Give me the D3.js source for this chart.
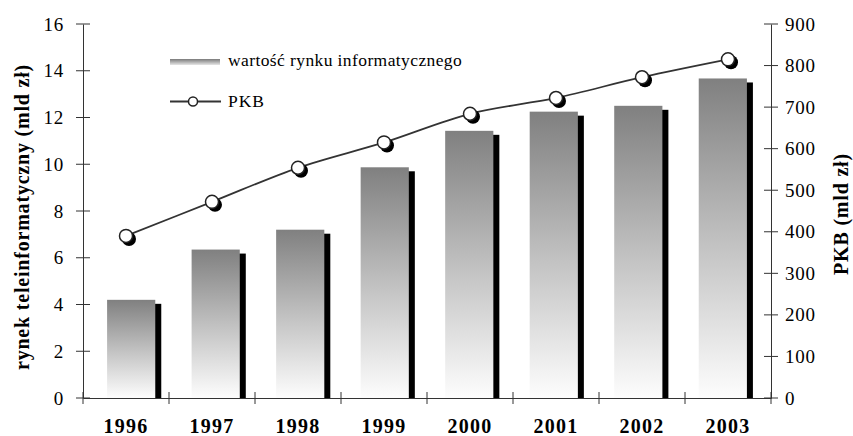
<!DOCTYPE html>
<html><head><meta charset="utf-8">
<script src="https://cdnjs.cloudflare.com/ajax/libs/d3/7.8.5/d3.min.js"></script>
<style>body{margin:0;background:#fff}svg{display:block}
svg text{font-family:"Liberation Serif","Times New Roman","DejaVu Serif",serif !important;}
</style>
</head><body><div id="chart"></div>
<script>
const years = ["1996","1997","1998","1999","2000","2001","2002","2003"];
const marketValues = [4.2, 6.35, 7.2, 9.87, 11.43, 12.25, 12.5, 13.67];
const gdpValues = [390, 472, 554, 615, 684, 722, 772, 815];
const leftTicks = [0,2,4,6,8,10,12,14,16];
const rightTicks = [0,100,200,300,400,500,600,700,800,900];

const W = 853, H = 436;
const m = {left: 83, right: 82, top: 24, bottom: 38};
const svg = d3.select("#chart").append("svg").attr("width", W).attr("height", H);

const x = d3.scaleBand().domain(years).range([m.left, W - m.right]).paddingInner(0.43).paddingOuter(0.285);
const xb = d3.scaleBand().domain(years).range([m.left, W - m.right]);
const yL = d3.scaleLinear().domain([0,16]).range([H - m.bottom, m.top]);
const yR = d3.scaleLinear().domain([0,900]).range([H - m.bottom, m.top]);

const defs = svg.append("defs");
const g = defs.append("linearGradient").attr("id","barGrad").attr("x1",0).attr("y1",0).attr("x2",0).attr("y2",1);
g.append("stop").attr("offset","0%").attr("stop-color","#808080");
g.append("stop").attr("offset","55%").attr("stop-color","#c6c6c6");
g.append("stop").attr("offset","100%").attr("stop-color","#fdfdfd");

// bar shadows
svg.append("g").selectAll("rect").data(years).join("rect")
  .attr("x", d => x(d) + 6).attr("y", (d,i) => yL(marketValues[i]) + 4)
  .attr("width", x.bandwidth()).attr("height", (d,i) => yL(0) - yL(marketValues[i]) - 4)
  .attr("fill", "#000");
// bars
svg.append("g").selectAll("rect").data(years).join("rect")
  .attr("x", d => x(d)).attr("y", (d,i) => yL(marketValues[i]))
  .attr("width", x.bandwidth()).attr("height", (d,i) => yL(0) - yL(marketValues[i]))
  .attr("fill", "url(#barGrad)");

// axes
const axL = svg.append("g").attr("transform",`translate(${m.left},0)`)
  .call(d3.axisLeft(yL).tickValues(leftTicks).tickSize(0).tickPadding(19));
const axR = svg.append("g").attr("transform",`translate(${W - m.right},0)`)
  .call(d3.axisRight(yR).tickValues(rightTicks).tickSize(0).tickPadding(14));
const axX = svg.append("g").attr("transform",`translate(0,${H - m.bottom})`)
  .call(d3.axisBottom(xb).tickSize(0).tickPadding(21));
[axL, axR, axX].forEach(a => {
  a.attr("font-family", null).attr("font-size", null);
  a.select(".domain").attr("stroke","#333").attr("stroke-width",1);
  a.selectAll("text").attr("font-size", 19).attr("letter-spacing", 0.8).attr("fill","#000");
});
axX.selectAll("text").attr("font-weight","bold").attr("font-size",20).attr("letter-spacing",1.2);
// crossing ticks
svg.append("g").selectAll("line").data(leftTicks).join("line")
  .attr("x1", m.left - 7).attr("x2", m.left + 7).attr("y1", d => yL(d)).attr("y2", d => yL(d))
  .attr("stroke","#333");
svg.append("g").selectAll("line").data(rightTicks).join("line")
  .attr("x1", W - m.right - 7).attr("x2", W - m.right + 7).attr("y1", d => yR(d)).attr("y2", d => yR(d))
  .attr("stroke","#333");
const xTickPos = years.map(d => xb(d)).concat([xb.range()[1]]);
svg.append("g").selectAll("line").data(xTickPos).join("line")
  .attr("x1", d => d).attr("x2", d => d).attr("y1", yL(0) - 6).attr("y2", yL(0) + 6)
  .attr("stroke","#333");

// GDP line
const cx = (d) => xb(d) + xb.bandwidth()/2;
const line = d3.line().x((v,i) => cx(years[i])).y(v => yR(v)).curve(d3.curveCatmullRom.alpha(0.5));
svg.append("path").attr("d", line(gdpValues)).attr("fill","none").attr("stroke","#333").attr("stroke-width",1.8);
const pts = svg.append("g");
pts.selectAll("circle.s").data(gdpValues).join("circle").attr("class","s")
  .attr("cx",(v,i)=>cx(years[i])+3).attr("cy",v=>yR(v)+3).attr("r",7).attr("fill","#000");
pts.selectAll("circle.p").data(gdpValues).join("circle").attr("class","p")
  .attr("cx",(v,i)=>cx(years[i])).attr("cy",v=>yR(v)).attr("r",6.5).attr("fill","#fff").attr("stroke","#222").attr("stroke-width",1.5);

// legend
const lg = svg.append("g");
const lgGrad = defs.append("linearGradient").attr("id","lgGrad").attr("x1",0).attr("y1",0).attr("x2",0).attr("y2",1);
lgGrad.append("stop").attr("offset","0%").attr("stop-color","#7a7a7a");
lgGrad.append("stop").attr("offset","100%").attr("stop-color","#e6e6e6");
lg.append("rect").attr("x",170).attr("y",59).attr("width",50).attr("height",6).attr("fill","url(#lgGrad)");
lg.append("text").attr("x",228).attr("y",66).text("wartość rynku informatycznego")
  .attr("font-size",17.5).attr("letter-spacing",0.4);
lg.append("line").attr("x1",170).attr("x2",221).attr("y1",101.5).attr("y2",101.5).attr("stroke","#333").attr("stroke-width",2);
lg.append("circle").attr("cx",193).attr("cy",101.5).attr("r",4.5).attr("fill","#fff").attr("stroke","#222").attr("stroke-width",1.5);
lg.append("text").attr("x",228).attr("y",106.5).text("PKB")
  .attr("font-size",17.5).attr("letter-spacing",1);

// axis titles
svg.append("text").attr("transform",`translate(29,217) rotate(-90)`)
  .attr("text-anchor","middle").attr("font-weight","bold").attr("font-size",20).attr("letter-spacing",0.8)
  .text("rynek teleinformatyczny (mld zł)");
svg.append("text").attr("transform",`translate(848,214) rotate(-90)`)
  .attr("text-anchor","middle").attr("font-weight","bold").attr("font-size",20).attr("letter-spacing",0.8)
  .text("PKB (mld zł)");
</script></body></html>
